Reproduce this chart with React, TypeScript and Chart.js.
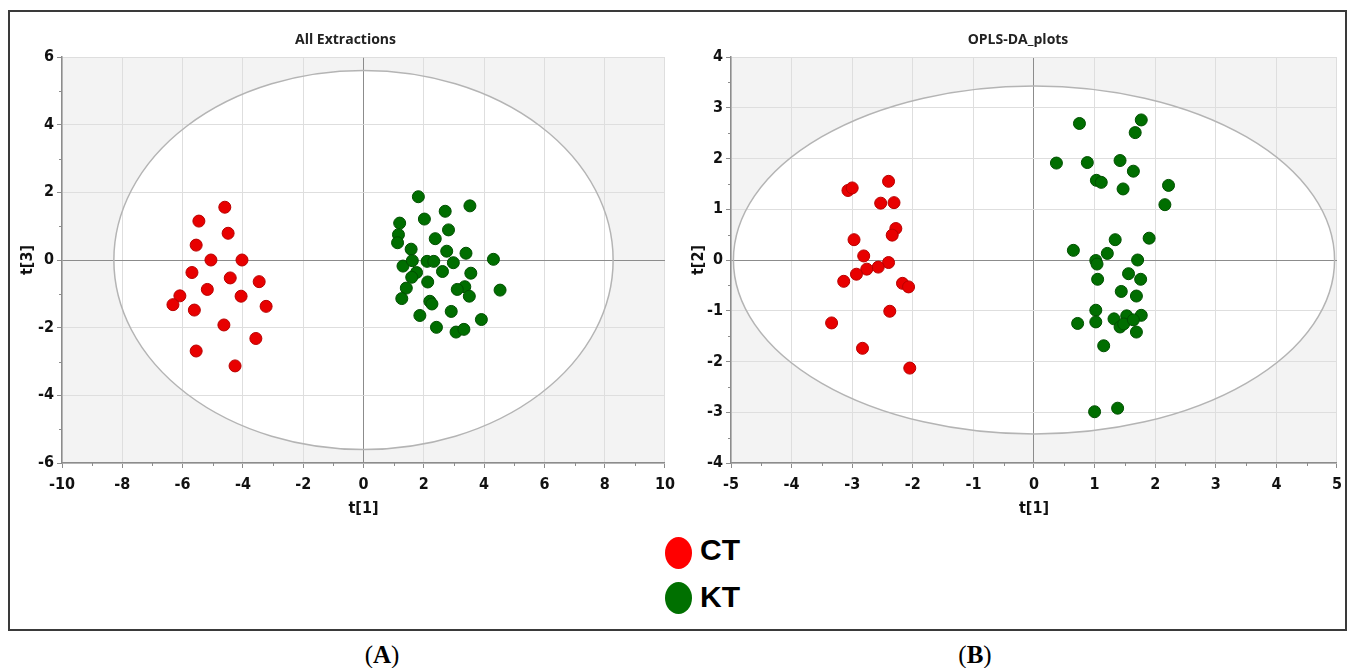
import React, { useEffect, useRef } from "react";
import { Chart, registerables } from "chart.js";

Chart.register(...registerables);

// ---------- Panel A: All Extractions (t[1] vs t[3]) ----------
const ctA_t1 = [-4.60, -5.46, -4.49, -5.55, -5.06, -4.03, -5.69, -4.42, -3.46, -5.18, -6.09, -4.06, -6.32, -3.23, -5.61, -4.63, -3.57, -5.55, -4.26];
const ctA_t3 = [1.56, 1.15, 0.79, 0.44, 0.00, 0.00, -0.37, -0.53, -0.64, -0.87, -1.06, -1.07, -1.32, -1.37, -1.48, -1.92, -2.32, -2.69, -3.13];

const ktA_t1 = [1.82, 3.53, 2.71, 2.02, 1.20, 2.82, 1.16, 1.13, 2.38, 1.58, 2.76, 3.40, 4.31, 1.31, 1.62, 2.11, 2.33, 2.98, 2.62, 3.56, 1.76, 1.60, 2.13, 3.36, 3.11, 1.42, 4.53, 3.51, 1.27, 2.20, 2.27, 2.91, 1.87, 3.91, 2.42, 3.07, 3.33];
const ktA_t3 = [1.87, 1.60, 1.44, 1.21, 1.09, 0.89, 0.75, 0.51, 0.63, 0.32, 0.26, 0.20, 0.02, -0.18, -0.02, -0.04, -0.04, -0.08, -0.34, -0.39, -0.37, -0.51, -0.65, -0.79, -0.87, -0.83, -0.89, -1.07, -1.14, -1.22, -1.30, -1.52, -1.64, -1.76, -1.99, -2.13, -2.05];

const xTicksA = [-10, -8, -6, -4, -2, 0, 2, 4, 6, 8, 10];
const yTicksA = [-6, -4, -2, 0, 2, 4, 6];
const ellipseA = [8.28, 5.6];

// ---------- Panel B: OPLS-DA_plots (t[1] vs t[2]) ----------
const ctB_t1 = [-2.40, -3.07, -3.00, -2.53, -2.31, -2.28, -2.34, -2.97, -2.81, -2.40, -2.57, -2.76, -2.93, -3.14, -2.17, -2.07, -2.38, -3.34, -2.83, -2.05];
const ctB_t2 = [1.55, 1.37, 1.42, 1.12, 1.13, 0.62, 0.49, 0.40, 0.08, -0.05, -0.14, -0.18, -0.28, -0.42, -0.46, -0.53, -1.01, -1.24, -1.74, -2.13];

const ktB_t1 = [0.75, 1.77, 1.67, 0.37, 0.88, 1.42, 1.64, 1.03, 1.11, 1.47, 2.22, 2.16, 1.34, 1.90, 0.65, 1.21, 1.02, 1.04, 1.71, 1.56, 1.76, 1.05, 1.44, 1.69, 1.02, 0.72, 1.02, 1.32, 1.53, 1.77, 1.42, 1.48, 1.64, 1.69, 1.15, 1.00, 1.38];
const ktB_t2 = [2.69, 2.76, 2.51, 1.91, 1.92, 1.96, 1.75, 1.57, 1.53, 1.40, 1.47, 1.09, 0.40, 0.43, 0.19, 0.13, -0.01, -0.08, 0.00, -0.27, -0.38, -0.38, -0.62, -0.71, -0.99, -1.25, -1.22, -1.16, -1.10, -1.09, -1.32, -1.26, -1.18, -1.42, -1.69, -2.99, -2.92];

const xTicksB = [-5, -4, -3, -2, -1, 0, 1, 2, 3, 4, 5];
const yTicksB = [-4, -3, -2, -1, 0, 1, 2, 3, 4];
const ellipseB = [4.96, 3.43];

const groups = ["CT", "KT"];
const RED = "rgb(232,0,0)";
const RED_EDGE = "rgb(185,0,0)";
const GREEN = "rgb(0,110,0)";
const GREEN_EDGE = "rgb(0,80,0)";

const TICK_FONT = "'Liberation Sans Narrow', 'DejaVu Sans Condensed', 'Roboto', sans-serif";
const TITLE_FONT = "'Open Sans', 'Liberation Sans', sans-serif";

const zip = (xs: number[], ys: number[]) => xs.map((x, i) => ({ x, y: ys[i] }));

const panelPlugin = {
  id: "panel",
  beforeDraw(chart: any, _args: any, opts: any) {
    const { ctx, chartArea: a, scales } = chart;
    const x = scales.x, y = scales.y;
    ctx.save();
    ctx.fillStyle = "#f3f3f3";
    ctx.fillRect(a.left, a.top, a.right - a.left, a.bottom - a.top);
    const cx = x.getPixelForValue(0), cy = y.getPixelForValue(0);
    const rx = Math.abs(x.getPixelForValue(opts.rx) - cx);
    const ry = Math.abs(y.getPixelForValue(opts.ry) - cy);
    ctx.beginPath();
    ctx.ellipse(cx, cy, rx, ry, 0, 0, Math.PI * 2);
    ctx.fillStyle = "#ffffff";
    ctx.fill();
    ctx.restore();
  },
  beforeDatasetsDraw(chart: any, _args: any, opts: any) {
    const { ctx, scales } = chart;
    const x = scales.x, y = scales.y;
    const cx = x.getPixelForValue(0), cy = y.getPixelForValue(0);
    const rx = Math.abs(x.getPixelForValue(opts.rx) - cx);
    const ry = Math.abs(y.getPixelForValue(opts.ry) - cy);
    ctx.save();
    ctx.beginPath();
    ctx.ellipse(cx, cy, rx, ry, 0, 0, Math.PI * 2);
    ctx.strokeStyle = "#b4b4b4";
    ctx.lineWidth = 1.5;
    ctx.stroke();
    ctx.restore();
  },
  afterDraw(chart: any, _args: any, opts: any) {
    const { ctx, chartArea: a, scales } = chart;
    const x = scales.x, y = scales.y;
    ctx.save();
    // minor ticks
    ctx.strokeStyle = "#8c8c8c";
    ctx.lineWidth = 1;
    const xt = opts.xTicks as number[];
    for (let i = 0; i < xt.length - 1; i++) {
      const px = Math.round(x.getPixelForValue((xt[i] + xt[i + 1]) / 2)) + 0.5;
      ctx.beginPath();
      ctx.moveTo(px, a.bottom);
      ctx.lineTo(px, a.bottom + 3);
      ctx.stroke();
    }
    const yt = opts.yTicks as number[];
    for (let i = 0; i < yt.length - 1; i++) {
      const py = Math.round(y.getPixelForValue((yt[i] + yt[i + 1]) / 2)) + 0.5;
      ctx.beginPath();
      ctx.moveTo(a.left, py);
      ctx.lineTo(a.left - 3, py);
      ctx.stroke();
    }
    // title
    ctx.fillStyle = "#222";
    ctx.font = `bold 14px ${TITLE_FONT}`;
    ctx.textAlign = "center";
    ctx.textBaseline = "middle";
    ctx.fillText(opts.title, (a.left + a.right) / 2 + opts.titleShift, 28);
    ctx.restore();
  },
};

type PanelProps = {
  ct: { x: number; y: number }[];
  kt: { x: number; y: number }[];
  xTicks: number[];
  yTicks: number[];
  ellipse: number[];
  title: string;
  titleShift: number;
  yTitle: string;
  yWidth: number;
  yTitlePad: number;
  padRight: number;
  left: number;
  width: number;
};

function Panel(p: PanelProps) {
  const ref = useRef<HTMLCanvasElement>(null);
  useEffect(() => {
    if (!ref.current) return;
    const gridColor = (c: any) => (c.tick && c.tick.value === 0 ? "#8c8c8c" : "#dedede");
    const chart = new Chart(ref.current, {
      type: "scatter",
      data: {
        datasets: [
          { label: groups[0], data: p.ct, backgroundColor: RED, borderColor: RED_EDGE, borderWidth: 1, pointRadius: 6 },
          { label: groups[1], data: p.kt, backgroundColor: GREEN, borderColor: GREEN_EDGE, borderWidth: 1, pointRadius: 6 },
        ],
      },
      plugins: [panelPlugin],
      options: {
        animation: false,
        responsive: false,
        events: [],
        layout: { padding: { top: 45, right: p.padRight, left: 0, bottom: 0 } },
        plugins: {
          legend: { display: false },
          tooltip: { enabled: false },
          title: { display: false },
          panel: { rx: p.ellipse[0], ry: p.ellipse[1], xTicks: p.xTicks, yTicks: p.yTicks, title: p.title, titleShift: p.titleShift },
        } as any,
        scales: {
          x: {
            type: "linear",
            min: p.xTicks[0],
            max: p.xTicks[p.xTicks.length - 1],
            afterBuildTicks: (s: any) => { s.ticks = p.xTicks.map((v) => ({ value: v })); },
            afterFit: (s: any) => { s.height = 59; },
            ticks: { autoSkip: false, maxRotation: 0, padding: 7, color: "#111", font: { family: TICK_FONT, size: 16, weight: "bold" } },
            grid: { color: gridColor, tickColor: "#8c8c8c", tickLength: 5, lineWidth: 1 },
            border: { color: "#8c8c8c", width: 1.5 },
            title: { display: true, text: "t[1]", color: "#111", font: { family: TICK_FONT, size: 16, weight: "bold" }, padding: { top: 0, bottom: 4 } },
          },
          y: {
            type: "linear",
            min: p.yTicks[0],
            max: p.yTicks[p.yTicks.length - 1],
            afterBuildTicks: (s: any) => { s.ticks = p.yTicks.map((v) => ({ value: v })); },
            afterFit: (s: any) => { s.width = p.yWidth; },
            ticks: { autoSkip: false, padding: 3, color: "#111", font: { family: TICK_FONT, size: 16, weight: "bold" } },
            grid: { color: gridColor, tickColor: "#8c8c8c", tickLength: 5, lineWidth: 1 },
            border: { color: "#8c8c8c", width: 1.5 },
            title: { display: true, text: p.yTitle, color: "#111", font: { family: TICK_FONT, size: 16, weight: "bold" }, padding: { top: p.yTitlePad, bottom: 0 } },
          },
        },
      } as any,
    });
    return () => chart.destroy();
  }, []);
  return (
    <canvas
      ref={ref}
      width={p.width}
      height={510}
      style={{ position: "absolute", left: p.left, top: 12, width: p.width, height: 510 }}
    />
  );
}

export default function App() {
  return (
    <div style={{ position: "absolute", left: 0, top: 0, width: 1349, height: 668, background: "#fff" }}>
      <div
        style={{
          position: "absolute",
          left: 8,
          top: 10,
          width: 1339,
          height: 621,
          border: "2px solid #3a3a3a",
          boxSizing: "border-box",
        }}
      />
      <Panel
        ct={zip(ctA_t1, ctA_t3)}
        kt={zip(ktA_t1, ktA_t3)}
        xTicks={xTicksA}
        yTicks={yTicksA}
        ellipse={ellipseA}
        title="All Extractions"
        titleShift={-18}
        yTitle="t[3]"
        yWidth={52}
        yTitlePad={8}
        padRight={14}
        left={10}
        width={672}
      />
      <Panel
        ct={zip(ctB_t1, ctB_t2)}
        kt={zip(ktB_t1, ktB_t2)}
        xTicks={xTicksB}
        yTicks={yTicksB}
        ellipse={ellipseB}
        title="OPLS-DA_plots"
        titleShift={-16}
        yTitle="t[2]"
        yWidth={59}
        yTitlePad={17}
        padRight={11}
        left={672}
        width={677}
      />
      {/* legend */}
      {groups.map((g, i) => (
        <div key={g}>
          <div
            style={{
              position: "absolute",
              left: 665,
              top: 537 + i * 45,
              width: 27,
              height: 32,
              borderRadius: "50%",
              background: i === 0 ? "#ff0000" : "#007000",
            }}
          />
          <div
            style={{
              position: "absolute",
              left: 700,
              top: 533 + i * 47,
              height: 34,
              lineHeight: "34px",
              font: "bold 30px 'Liberation Sans', Arial, sans-serif",
              color: "#000",
            }}
          >
            {g}
          </div>
        </div>
      ))}
      {/* captions */}
      {["A", "B"].map((c, i) => (
        <div
          key={c}
          style={{
            position: "absolute",
            left: i === 0 ? 282 : 875,
            width: 200,
            top: 640,
            textAlign: "center",
            font: "25px 'Liberation Serif', 'Times New Roman', serif",
            lineHeight: "30px",
            color: "#000",
          }}
        >
          (<b>{c}</b>)
        </div>
      ))}
    </div>
  );
}
